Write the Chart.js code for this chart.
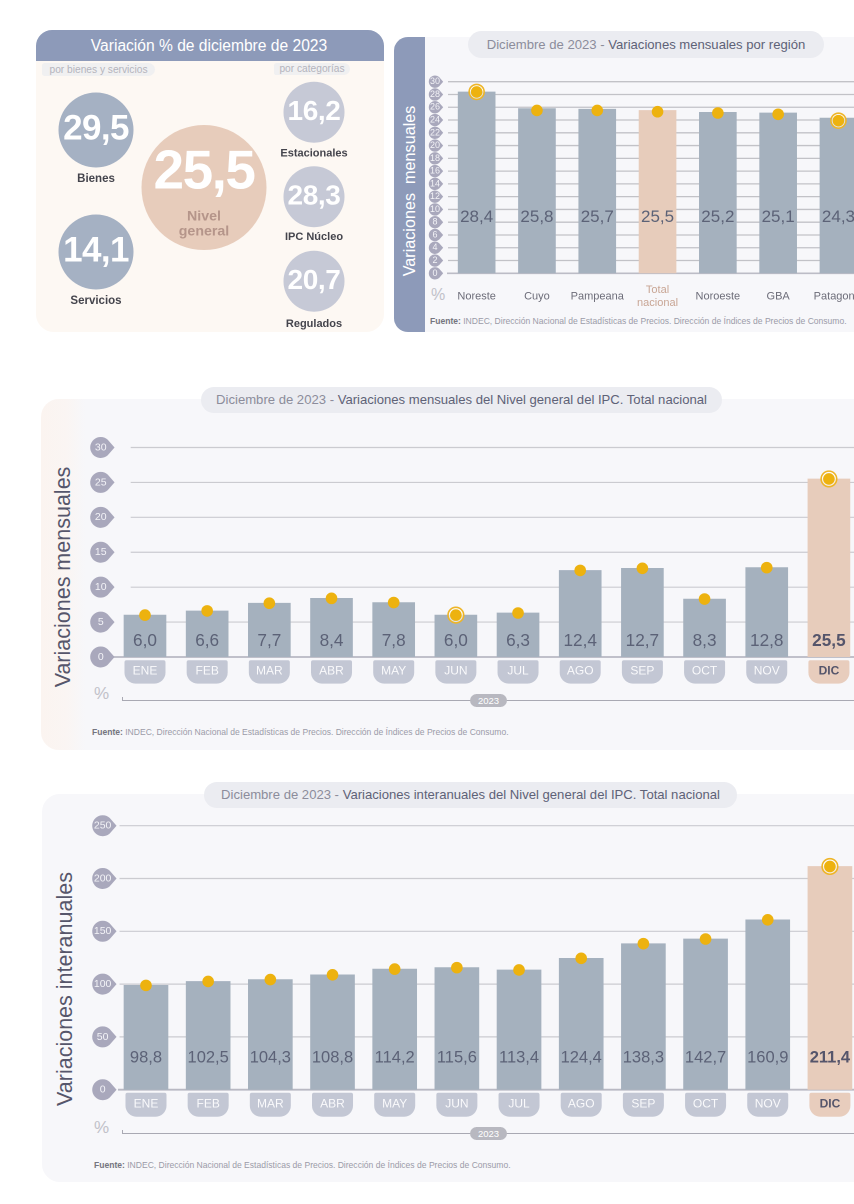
<!DOCTYPE html>
<html lang="es"><head><meta charset="utf-8">
<script src="https://cdn.jsdelivr.net/npm/chart.js@4/dist/chart.umd.min.js"></script>
<style>
html,body{margin:0;padding:0;background:#fff}
body{position:relative;width:854px;height:1204px;overflow:hidden;font-family:"Liberation Sans",sans-serif}
.a{position:absolute;white-space:pre}
canvas{position:absolute;display:block}
.titlePill{background:#ebecf1;border-radius:14px;text-align:center;color:#8c8c9b;overflow:hidden}
.titlePill b{font-weight:400;color:#5e6277}
.src{font-size:8.55px;color:#9b9ba8}
.src b{color:#75757f}
.vert{transform:translate(-50%,-50%) rotate(-90deg);color:#56566b;font-size:21.5px}
.pct{color:#c1c1c9;font-size:17px}
.sub{background:#f0f0f1;color:#b4b4bd;font-size:10.2px;text-align:center;border-radius:3px 7px 7px 3px}
.yr{background:#b8b8c0;color:#fff;font-size:9.5px;border-radius:7px;width:37px;height:13px;line-height:13px;text-align:center}
</style></head><body>
<!-- panel 1 -->
<div class="a" style="left:36px;top:30px;width:348px;height:302px;background:#fdf8f3;border-radius:18px"></div>
<div class="a" style="left:36px;top:30px;width:348px;height:31px;background:#8d9ab9;border-radius:16px 16px 0 0;color:#fff;font-size:15.6px;line-height:31px;text-align:center;box-sizing:border-box;padding-right:2px">Variación % de diciembre de 2023</div>
<div class="a sub" style="left:42px;top:63px;width:113px;height:13px;line-height:13px">por bienes y servicios</div>
<div class="a sub" style="left:274px;top:63px;width:76px;height:12px;line-height:12px">por categorías</div>
<canvas id="cBienes" style="left:46px;top:20px"></canvas>
<canvas id="cNivel" style="left:134px;top:40px"></canvas>
<canvas id="cCategorias" style="left:264px;top:30px"></canvas>
<!-- panel 2 -->
<div class="a" style="left:394px;top:37px;width:480px;height:295px;background:#f7f7fa;border-radius:14px 0 0 14px"></div>
<div class="a" style="left:394px;top:37px;width:31px;height:295px;background:#8d9ab9;border-radius:14px 0 0 14px"></div>
<div class="a vert" style="left:409px;top:190.5px;color:#fff;font-size:16.2px">Variaciones  mensuales</div>
<div class="a titlePill" style="left:468px;top:31px;width:356px;height:27px;line-height:27px;font-size:13.1px">Diciembre de 2023 - <b>Variaciones mensuales por región</b></div>
<div class="a pct" style="left:431px;top:286px;font-size:16px">%</div>
<div class="a src" style="left:430px;top:316px"><b>Fuente:</b> INDEC, Dirección Nacional de Estadísticas de Precios. Dirección de Índices de Precios de Consumo.</div>
<canvas id="cRegion" style="left:425px;top:60px"></canvas>
<!-- panel 3 -->
<div class="a" style="left:41px;top:399px;width:840px;height:351px;border-radius:18px;background:linear-gradient(90deg,#fbf4f0 0,#faf5f3 26px,#f7f7fa 44px,#f7f7fa 100%)"></div>
<div class="a titlePill" style="left:201px;top:387px;width:521px;height:26px;line-height:25px;font-size:13.1px">Diciembre de 2023 - <b>Variaciones mensuales del Nivel general del IPC. Total nacional</b></div>
<div class="a vert" style="left:63px;top:577px">Variaciones mensuales</div>
<div class="a pct" style="left:94px;top:684px">%</div>
<div class="a" style="left:122px;top:697px;width:760px;height:3px;border-left:1.5px solid #a9a9b3;border-bottom:1.5px solid #a9a9b3"></div>
<div class="a yr" style="left:470px;top:694px">2023</div>
<div class="a src" style="left:92px;top:727px"><b>Fuente:</b> INDEC, Dirección Nacional de Estadísticas de Precios. Dirección de Índices de Precios de Consumo.</div>
<canvas id="cMes" style="left:85px;top:430px"></canvas>
<!-- panel 4 -->
<div class="a" style="left:42px;top:794px;width:840px;height:388px;border-radius:18px;background:#f7f7fa"></div>
<div class="a titlePill" style="left:204px;top:782px;width:533px;height:26px;line-height:26px;font-size:13.1px">Diciembre de 2023 - <b>Variaciones interanuales del Nivel general del IPC. Total nacional</b></div>
<div class="a vert" style="left:65px;top:989px">Variaciones interanuales</div>
<div class="a pct" style="left:94px;top:1118px">%</div>
<div class="a" style="left:122px;top:1129.5px;width:760px;height:3px;border-left:1.5px solid #a9a9b3;border-bottom:1.5px solid #a9a9b3"></div>
<div class="a yr" style="left:470px;top:1127px">2023</div>
<div class="a src" style="left:94px;top:1160px"><b>Fuente:</b> INDEC, Dirección Nacional de Estadísticas de Precios. Dirección de Índices de Precios de Consumo.</div>
<canvas id="cAnual" style="left:85px;top:810px"></canvas>
<script>
// ---------- data ----------
const bienesLabels = ['Bienes','Servicios'];
const bienesValues = [29.5,14.1];
const nivelLabels = ['Nivel general'];
const nivelValues = [25.5];
const categoriaLabels = ['Estacionales','IPC Núcleo','Regulados'];
const categoriaValues = [16.2,28.3,20.7];

const regionLabels = ['Noreste','Cuyo','Pampeana',['Total','nacional'],'Noroeste','GBA','Patagonia'];
const regionValues = [28.4,25.8,25.7,25.5,25.2,25.1,24.3];
const regionDots = [28.4,25.5,25.5,25.3,25.1,24.9,23.9];
const regionTicks = [0,2,4,6,8,10,12,14,16,18,20,22,24,26,28,30];
const regionRinged = ['Noreste','Patagonia'];

const mesLabels = ['ENE','FEB','MAR','ABR','MAY','JUN','JUL','AGO','SEP','OCT','NOV','DIC'];
const mesValues = [6.0,6.6,7.7,8.4,7.8,6.0,6.3,12.4,12.7,8.3,12.8,25.5];
const mesTicks = [0,5,10,15,20,25,30];
const mesRinged = ['JUN','DIC'];

const anualValues = [98.8,102.5,104.3,108.8,114.2,115.6,113.4,124.4,138.3,142.7,160.9,211.4];
const anualTicks = [0,50,100,150,200,250];
const anualRinged = ['DIC'];

// ---------- helpers ----------
const FONT = '"Liberation Sans", sans-serif';
const fmt = v => v.toFixed(1).replace('.',',');
const name = l => Array.isArray(l) ? l.join(' ') : l;
Chart.defaults.font.family = FONT;
Chart.defaults.animation = false;
Chart.defaults.responsive = false;
Chart.defaults.devicePixelRatio = 2;

function size(id,w,h){const c=document.getElementById(id);c.width=w;c.height=h;c.style.width=w+'px';c.style.height=h+'px';return c;}

const circleText = {
  id:'circleText',
  afterDatasetsDraw(chart,_a,o){
    const ctx=chart.ctx, ds=chart.data.datasets[0], meta=chart.getDatasetMeta(0);
    meta.data.forEach((p,i)=>{
      ctx.save();ctx.textAlign='center';ctx.textBaseline='middle';
      ctx.fillStyle='#fff';ctx.font='bold '+o.valueSize+'px '+FONT;
      if(o.spacing) ctx.letterSpacing=o.spacing;
      ctx.fillText(fmt(ds.values[i]),p.x,p.y+(o.valueDy||0));
      ctx.letterSpacing='0px';
      ctx.fillStyle=o.nameColor;ctx.font=o.nameFont+' '+FONT;
      const lines=o.inside?ds.names[i].split(' '):[ds.names[i]];
      lines.forEach((t,k)=>ctx.fillText(t,p.x,p.y+o.nameDy[i]+k*15));
      ctx.restore();
    });
  }
};
function circleChart(id,w,h,labels,values,pad,r,color,text){
  return new Chart(size(id,w,h),{
    type:'scatter',
    data:{datasets:[{data:labels.map(l=>({x:0.5,y:l})),values,names:labels,
      backgroundColor:color,borderWidth:0,pointRadius:r,pointHoverRadius:r,clip:false}]},
    options:{layout:{padding:pad},events:[],
      scales:{x:{type:'linear',min:0,max:1,display:false},
              y:{type:'category',labels,offset:true,display:false}},
      plugins:{legend:{display:false},tooltip:{enabled:false},circleText:text}},
    plugins:[circleText]
  });
}
function roundedPill(ctx,x,y,w,h,rt,rb){
  ctx.beginPath();ctx.moveTo(x+rt,y);ctx.lineTo(x+w-rt,y);ctx.arcTo(x+w,y,x+w,y+rt,rt);
  ctx.lineTo(x+w,y+h-rb);ctx.arcTo(x+w,y+h,x+w-rb,y+h,rb);ctx.lineTo(x+rb,y+h);
  ctx.arcTo(x,y+h,x,y+h-rb,rb);ctx.lineTo(x,y+rt);ctx.arcTo(x,y,x+rt,y,rt);ctx.closePath();
}
const frame = {
  id:'frame',
  beforeDraw(chart,_a,o){
    const ctx=chart.ctx,y=chart.scales.y,x=chart.scales.x;
    ctx.save();
    y.ticks.forEach((t,i)=>{
      const py=y.getPixelForTick(i);
      // grid line
      ctx.beginPath();ctx.lineWidth=t.value===0?o.zeroWidth:o.gridWidth;ctx.strokeStyle=t.value===0?o.zeroColor:o.gridColor;
      ctx.moveTo(t.value===0?o.zeroStart:o.gridStart,py);ctx.lineTo(chart.width,py);ctx.stroke();
      // tick badge
      ctx.fillStyle=o.badgeColor;ctx.beginPath();
      ctx.arc(o.badgeX,py,o.badgeR,Math.PI*0.27,Math.PI*1.73);
      ctx.lineTo(o.badgeX+o.badgeR*1.32,py);ctx.closePath();ctx.fill();
    });
    if(o.pillTop!==undefined){
      x.ticks.forEach((t,i)=>{
        const px=x.getPixelForTick(i),hl=o.highlight.includes(name(chart.data.labels[i]));
        ctx.fillStyle=hl?o.pillHi:o.pillColor;
        roundedPill(ctx,px-20.5,chart.chartArea.bottom+o.pillTop,41,o.pillH,2,11);ctx.fill();
      });
    }
    ctx.restore();
  },
  afterDatasetsDraw(chart,_a,o){
    const ctx=chart.ctx,y=chart.scales.y,meta=chart.getDatasetMeta(0),ds=chart.data.datasets[0];
    ctx.save();ctx.textAlign='center';ctx.textBaseline='middle';
    meta.data.forEach((b,i)=>{
      const hl=o.boldHighlight&&o.highlight.includes(name(chart.data.labels[i]));
      ctx.font=(hl?'bold ':'')+o.valueSize+'px '+FONT;ctx.fillStyle=hl?'#55556b':'#5c6277';
      ctx.fillText(fmt(ds.data[i]),b.x,y.getPixelForValue(0)-o.valueLift);
    });
    ctx.restore();
  }
};
function barChart(id,w,h,cfg){
  const isHi=l=>cfg.highlight.includes(name(l));
  const ringed=cfg.labels.map((l,i)=>cfg.ringed.includes(name(l))?cfg.dots[i]:null);
  return new Chart(size(id,w,h),{
    data:{labels:cfg.labels,datasets:[
      {type:'bar',data:cfg.values,order:3,barThickness:cfg.barW,borderWidth:0,
       backgroundColor:cfg.labels.map(l=>isHi(l)?'#e7ccbb':'#a5b1be')},
      {type:'line',data:ringed,order:2,showLine:false,pointRadius:cfg.ringR,clip:false,
       pointBackgroundColor:'rgba(255,255,255,.65)',pointBorderColor:'#eeb528',pointBorderWidth:1.6},
      {type:'line',data:cfg.dots,order:1,showLine:false,pointRadius:cfg.dotR,clip:false,
       pointBackgroundColor:'#edb20f',pointBorderWidth:0}
    ]},
    options:{events:[],
      layout:{padding:{top:cfg.padTop,right:cfg.padRight,left:0,bottom:0}},
      scales:{
        x:{type:'category',grid:{display:false,drawTicks:false},border:{display:false},
           afterFit(s){s.height=cfg.xH},
           ticks:{autoSkip:false,maxRotation:0,minRotation:0,padding:cfg.xPad,crossAlign:'center',
             color:c=>isHi(cfg.labels[c.index])?cfg.hiTick:cfg.tick,
             font:c=>({size:cfg.xFont,weight:(cfg.pill&&isHi(cfg.labels[c.index]))?'bold':'normal'})}},
        y:{min:0,max:cfg.yMax,grid:{display:false,drawTicks:false},border:{display:false},
           afterFit(s){s.width=cfg.yW},
           afterBuildTicks(s){s.ticks=cfg.yTicks.map(v=>({value:v}))},
           ticks:{autoSkip:false,padding:cfg.yPad,crossAlign:'center',color:'#f4f4f8',font:{size:cfg.yFont}}}
      },
      plugins:{legend:{display:false},tooltip:{enabled:false},frame:cfg.frame}
    },
    plugins:[frame]
  });
}

// ---------- panel 1 ----------
circleChart('cBienes',100,340,bienesLabels,bienesValues,{top:49,bottom:47,left:0,right:0},37.5,'#a5b1c3',
  {valueSize:35,spacing:'-0.6px',nameColor:'#44444c',nameFont:'bold 11.5px',nameDy:[49,49]});
circleChart('cNivel',140,300,nivelLabels,nivelValues,{top:60,bottom:67.4,left:0,right:0},62.5,'#e7ccbb',
  {valueSize:55,spacing:'-1.5px',valueDy:-14,inside:true,nameColor:'#b5958a',nameFont:'bold 14.2px',nameDy:[29]});
circleChart('cCategorias',100,330,categoriaLabels,categoriaValues,{top:40,bottom:36.5,left:0,right:0},30.5,'#c6c9d6',
  {valueSize:28,spacing:'-0.4px',nameColor:'#44444c',nameFont:'bold 11px',nameDy:[41,40,42.5]});

// ---------- panel 2 ----------
barChart('cRegion',460,260,{labels:regionLabels,values:regionValues,dots:regionDots,ringed:regionRinged,
  highlight:['Total nacional'],yMax:30,yTicks:regionTicks,barW:37,dotR:5.8,ringR:7.5,
  padTop:21.7,padRight:16.4,xH:46.7,xPad:16.5,xFont:11,yW:21.5,yPad:6.5,yFont:9,
  tick:'#6c6c78',hiTick:'#c8a594',
  frame:{gridStart:23,zeroStart:22,gridColor:'#c2c2c7',gridWidth:1.3,zeroColor:'#bcbcc6',zeroWidth:1.6,
    badgeX:10,badgeR:6.2,badgeColor:'#a9a8bc',highlight:['Total nacional'],valueSize:17,valueLift:56,boldHighlight:false}});

// ---------- panel 3 ----------
const monthly = {labels:mesLabels,highlight:['DIC'],xFont:12,tick:'#fafafc',hiTick:'#55556b',pill:true,padRight:15,
  yFont:10.5};
barChart('cMes',790,270,{...monthly,values:mesValues,dots:mesValues,ringed:mesRinged,yMax:30,yTicks:mesTicks,
  barW:42,dotR:5.8,ringR:7.8,padTop:17.5,xH:43,xPad:14,yW:28.9,yPad:7.3,
  frame:{gridStart:45.7,zeroStart:28,gridColor:'#cbcbd0',gridWidth:1.2,zeroColor:'#b9b9c3',zeroWidth:1.8,
    badgeX:15.7,badgeR:10.5,badgeColor:'#a9a8bc',highlight:['DIC'],boldHighlight:true,valueSize:17.2,valueLift:15.5,
    pillTop:3.3,pillH:23.3,pillColor:'#c3c7d4',pillHi:'#e8cdbd'}});

// ---------- panel 4 ----------
barChart('cAnual',790,320,{...monthly,values:anualValues,dots:anualValues,ringed:anualRinged,yMax:250,yTicks:anualTicks,
  barW:44,dotR:5.8,ringR:7.8,padTop:15.7,xH:40.3,xPad:14.7,yW:29.9,yPad:3.5,padRight:14,
  frame:{gridStart:34.5,zeroStart:33,gridColor:'#cbcbd0',gridWidth:1.2,zeroColor:'#b9b9c3',zeroWidth:1.8,
    badgeX:17.7,badgeR:10.5,badgeColor:'#a9a8bc',highlight:['DIC'],boldHighlight:true,valueSize:16.5,valueLift:31.5,
    pillTop:3,pillH:24,pillColor:'#c3c7d4',pillHi:'#e8cdbd'}});
</script>
</body></html>
